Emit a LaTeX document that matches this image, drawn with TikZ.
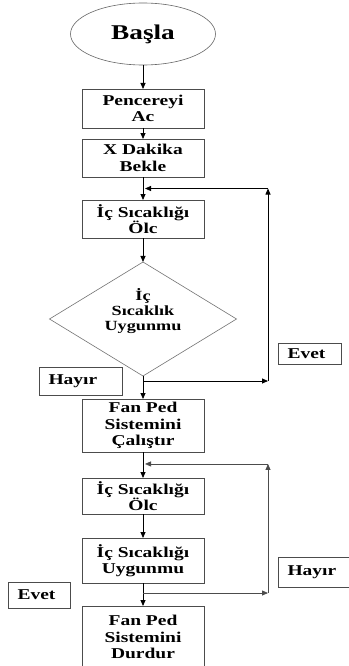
\documentclass[tikz,border=0pt]{standalone}
\usepackage{fontspec}
\setmainfont{Liberation Serif}[FakeStretch=1.3]
\usetikzlibrary{arrows.meta, positioning, shapes.geometric, calc}

\begin{document}
\begin{tikzpicture}[
    x=1pt, y=-1pt,
    >={Triangle[length=6pt,width=5pt]},
    node distance=24pt,
    stepbox/.style={rectangle, draw=black!70, line width=0.7pt, outer sep=0pt, minimum width=122pt, align=center, inner sep=2pt, font=\fontsize{15}{16.5}\selectfont\bfseries},
    decision/.style={diamond, draw=black!55, line width=0.6pt, outer sep=0pt, minimum width=187pt, minimum height=114pt, aspect=1.64, inner sep=0pt, align=center, font=\fontsize{14}{15}\selectfont\bfseries},
    terminal/.style={ellipse, draw=black!60, line width=0.6pt, outer sep=0pt, minimum width=145pt, minimum height=62pt, font=\fontsize{21}{24}\selectfont\bfseries},
    answer/.style={rectangle, draw=black!70, line width=0.7pt, inner xsep=9.5pt, inner ysep=0pt, align=left, font=\fontsize{15}{16}\selectfont\bfseries},
    arrow/.style={->, line width=0.8pt},
    looparrow/.style={->, line width=0.8pt, black!70},
]

\useasboundingbox[fill=white] (0,0) rectangle (348,666);

% === Main column ===
\node (start) [terminal] at (143,34) {Başla};
\node (pen) [stepbox, minimum height=39pt, below=24pt of start] {Pencereyi\\Ac};
\node (wait) [stepbox, minimum height=38pt, below=11pt of pen] {X Dakika\\Bekle};
\node (olc1) [stepbox, minimum height=38pt, below=23pt of wait] {İç Sıcaklığı\\Ölc};
\node (check1) [decision, below=24pt of olc1] {İç\\Sıcaklık\\Uygunmu\\[4pt]};
\node (fan1) [stepbox, minimum height=53pt, below=23pt of check1] {Fan Ped\\Sistemini\\Çalıştır};
\node (olc2) [stepbox, minimum height=36pt, below=26pt of fan1] {İç Sıcaklığı\\Ölc};
\node (check2) [stepbox, minimum height=45pt, below=24pt of olc2] {İç Sıcaklığı\\Uygunmu};
\node (fan2) [stepbox, minimum height=62pt, below=23pt of check2] {Fan Ped\\Sistemini\\Durdur};

% === Answer labels ===
\node (yes1) [answer, text width=44pt, minimum height=21pt] at (309.5,353.5) {Evet};
\node (no1) [answer, text width=64pt, minimum height=28pt] at (80.5,381) {Hayır};
\node (no2) [answer, text width=53pt, minimum height=30pt] at (314,572) {Hayır};
\node (yes2) [answer, text width=43pt, minimum height=26pt] at (39,595) {Evet};

% === Arrows: main flow ===
\draw[arrow] (start) -- (pen);
\draw[arrow] (pen) -- (wait);
\draw[arrow] (wait) -- (olc1);
\draw[arrow] (olc1) -- (check1);
\draw[arrow] (check1) -- (fan1);
\draw[arrow] (fan1) -- (olc2);
\draw[arrow] (olc2) -- (check2);
\draw[arrow] (check2) -- (fan2);

% === First loop (Evet) ===
\coordinate (loop1top) at ($(wait.south)!0.5!(olc1.north)$);
\coordinate (loop1bot) at ($(check1.south)+(0,5)$);
\coordinate (loop1tr) at ([xshift=125pt]loop1top);
\coordinate (loop1br) at ([xshift=125pt]loop1bot);
\draw[arrow] (loop1bot) -- (loop1br);
\draw[arrow] (loop1br) -- (loop1tr);
\draw[arrow, shorten >=2pt] (loop1tr) -- (loop1top);

% === Second loop (Hayır) ===
\coordinate (loop2top) at ($(fan1.south)!0.46!(olc2.north)$);
\coordinate (loop2bot) at ($(check2.south)+(0,10)$);
\coordinate (loop2tr) at ([xshift=125pt]loop2top);
\coordinate (loop2br) at ([xshift=125pt]loop2bot);
\draw[looparrow] (loop2bot) -- (loop2br);
\draw[looparrow] (loop2br) -- (loop2tr);
\draw[looparrow, shorten >=2pt] (loop2tr) -- (loop2top);

\end{tikzpicture}
\end{document}
